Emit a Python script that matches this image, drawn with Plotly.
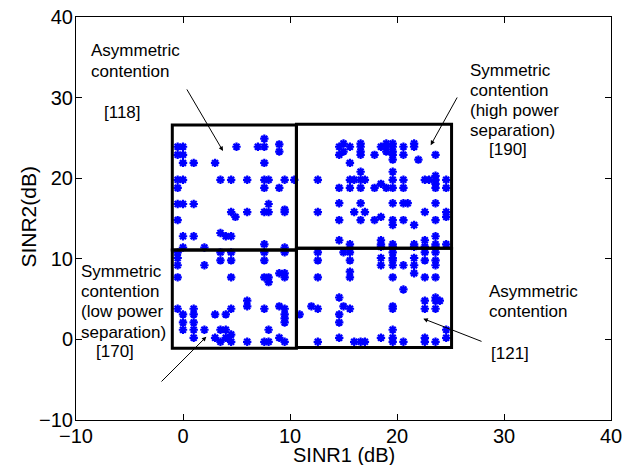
import plotly.graph_objects as go

# ---------------- data ----------------
# upper-left region
ul_x = [7.6,
        9.0,
        -0.5, 0.0, 5.0, 7.0, 7.6,
        9.0,
        -0.5, 0.0,
        0.0, 1.0, 3.0, 7.6,
        -0.5, 0.0, 3.5, 4.5, 6.0, 7.6, 8.0, 9.5, 10.4,
        -0.5, 7.6, 9.0,
        -0.5, 0.0, 1.0, 8.0,
        9.5,
        4.5, 6.0, 7.6, 8.0, 9.5,
        4.9,
        -0.5,
        3.5,
        0.0, 1.0, 4.0, 4.5,
        7.6,
        0.0, 2.0, 9.5]
ul_y = [24.9,
        24.2,
        23.9, 23.9, 23.9, 23.9, 23.9,
        23.3,
        22.9, 22.9,
        21.9, 21.9, 21.9, 21.9,
        19.8, 19.8, 19.8, 19.8, 19.8, 19.8, 19.8, 19.8, 19.8,
        18.8, 18.8, 18.8,
        16.8, 16.8, 16.8, 16.8,
        16.1,
        15.8, 15.8, 15.8, 15.8, 15.8,
        15.2,
        14.8,
        13.2,
        12.8, 12.8, 12.8, 12.8,
        11.8,
        11.4, 11.4, 11.4]

# lower-left region
ll_x = [-0.5, 3.5, 4.5, 7.6, 9.5,
        -0.5,
        3.5, 4.5, 7.6,
        -0.5, 2.0,
        9.0, 9.5,
        -0.5, 4.5, 7.6, 8.0, 9.5,
        8.0,
        6.0,
        6.0, 9.0,
        -0.5, 1.0, 4.5, 7.6, 9.5,
        0.0, 1.0, 3.0, 4.0, 9.5,
        9.5,
        0.0, 1.0, 9.5,
        0.0, 1.0, 2.0, 3.5, 4.0, 8.0,
        4.5,
        1.0, 3.0, 4.0, 9.0,
        3.5, 4.5, 6.0, 7.6, 8.0, 9.5]
ll_y = [10.8, 10.8, 10.8, 10.8, 10.8,
        10.1,
        9.8, 9.8, 9.8,
        9.2, 9.2,
        8.2, 8.2,
        7.7, 7.7, 7.7, 7.7, 7.7,
        7.1,
        4.8,
        4.1, 4.1,
        3.8, 3.8, 3.8, 3.8, 3.8,
        3.1, 3.1, 3.1, 3.1, 3.1,
        2.6,
        2.1, 2.1, 2.1,
        1.2, 1.2, 1.2, 1.2, 1.2, 1.2,
        0.6,
        0.2, 0.2, 0.2, 0.2,
        -0.3, -0.3, -0.3, -0.3, -0.3, -0.3]

# upper-right region
ur_x = [15.0, 16.6, 19.0, 19.6, 21.6,
        14.6, 15.6, 16.6, 18.5, 19.0, 19.6, 20.6, 21.6,
        15.0, 16.6, 19.0, 19.6,
        14.6, 16.6, 17.9, 19.6, 20.6, 23.6,
        19.6, 22.0,
        15.6,
        16.6, 19.6,
        23.6,
        12.6, 15.6, 16.0, 16.6, 17.0, 19.6, 20.6, 22.6, 23.0, 23.6, 24.6,
        18.5, 23.6,
        14.6, 15.6, 16.6, 17.9, 19.0, 19.6, 20.6, 23.6, 24.6,
        14.6, 16.6, 19.6, 20.6, 21.0, 23.6,
        12.6, 16.0, 17.0, 22.6, 24.6,
        18.5, 24.6,
        14.6, 16.6, 17.9, 19.6, 20.6, 23.6,
        19.6, 21.6,
        23.6,
        14.6, 18.5, 22.6,
        15.6, 18.5, 19.6, 21.6, 23.6, 24.6]
ur_y = [24.3, 24.3, 24.3, 24.3, 24.3,
        23.9, 23.9, 23.9, 23.9, 23.9, 23.9, 23.9, 23.9,
        23.3, 23.3, 23.3, 23.3,
        22.9, 22.9, 22.9, 22.9, 22.9, 22.9,
        22.3, 22.3,
        21.9,
        20.8, 20.8,
        20.3,
        19.8, 19.8, 19.8, 19.8, 19.8, 19.8, 19.8, 19.8, 19.8, 19.8, 19.8,
        19.3, 19.3,
        18.8, 18.8, 18.8, 18.8, 18.8, 18.8, 18.8, 18.8, 18.8,
        16.9, 16.9, 16.9, 16.9, 16.9, 16.9,
        15.8, 15.8, 15.8, 15.8, 15.8,
        15.2, 15.2,
        14.8, 14.8, 14.8, 14.8, 14.8, 14.8,
        14.2, 14.2,
        12.8,
        12.3, 12.3, 12.3,
        11.8, 11.8, 11.8, 11.8, 11.8, 11.8]

# lower-right region
lr_x = [18.5, 19.6, 21.6, 22.6, 23.6,
        12.6, 15.0, 15.6, 19.6, 22.6, 23.6,
        18.5, 19.6, 21.6,
        12.6, 15.6, 19.6, 22.6, 23.6,
        18.5, 19.6, 20.6, 21.6, 23.6,
        15.6,
        21.6,
        12.6, 15.6, 19.6, 22.6, 23.6,
        20.6,
        14.6, 23.6,
        22.6, 23.6, 24.0,
        12.0, 15.0, 19.6,
        12.6, 15.6, 19.6, 22.6, 23.6,
        10.9, 14.6,
        14.6,
        19.6, 24.6,
        14.6, 18.5, 19.6, 22.6, 24.6,
        12.6, 16.0, 16.6, 17.0, 19.6, 20.6, 22.6, 23.6]
lr_y = [11.5, 11.5, 11.5, 11.5, 11.5,
        10.8, 10.8, 10.8, 10.8, 10.8, 10.8,
        10.1, 10.1, 10.1,
        9.8, 9.8, 9.8, 9.8, 9.8,
        9.2, 9.2, 9.2, 9.2, 9.2,
        8.4,
        8.2,
        7.7, 7.7, 7.7, 7.7, 7.7,
        6.2,
        5.2, 5.2,
        4.8, 4.8, 4.8,
        4.1, 4.1, 4.1,
        3.8, 3.8, 3.8, 3.8, 3.8,
        3.1, 3.1,
        2.1,
        1.2, 1.2,
        0.2, 0.2, 0.2, 0.2, 0.2,
        -0.3, -0.3, -0.3, -0.3, -0.3, -0.3, -0.3, -0.3]

# region boxes: (x0, x1, y0, y1)
box_x0 = [-1.0, -1.0, 10.6, 10.6]
box_x1 = [10.6, 10.6, 25.1, 25.1]
box_y0 = [11.1, -1.1, 11.3, -1.0]
box_y1 = [26.6, 11.1, 26.7, 11.3]

tick_vals = [-10, 0, 10, 20, 30, 40]

FONT = "Liberation Sans, Arial, Helvetica, sans-serif"

fig = go.Figure()
fig.add_trace(go.Scatter(
    x=ul_x + ll_x + ur_x + lr_x,
    y=ul_y + ll_y + ur_y + lr_y,
    mode="markers",
    marker=dict(symbol="asterisk-open", size=7, color="#0000ff",
                line=dict(color="#0000ff", width=2.2)),
    showlegend=False,
    hoverinfo="x+y",
))

for x0, x1, y0, y1 in zip(box_x0, box_x1, box_y0, box_y1):
    fig.add_shape(type="rect", x0=x0, x1=x1, y0=y0, y1=y1, xref="x", yref="y",
                  line=dict(color="black", width=3), fillcolor="rgba(0,0,0,0)",
                  layer="above")

# text labels: (text, x, y)
labels = [
    ("Asymmetric", -8.69, 35.8), ("contention", -8.69, 33.3), ("[118]", -7.48, 28.2),
    ("Symmetric", 26.73, 33.4), ("contention", 26.73, 30.94),
    ("(high power", 26.73, 28.46), ("separation)", 26.73, 25.98), ("[190]", 28.5, 23.5),
    ("Symmetric", -9.63, 8.4), ("contention", -9.63, 6.0),
    ("(low power", -9.63, 3.44), ("separation)", -9.63, 0.88), ("[170]", -8.22, -1.53),
    ("Asymmetric", 28.5, 6.0), ("contention", 28.5, 3.52), ("[121]", 28.69, -1.69),
]
for t, x, y in labels:
    fig.add_annotation(text=t, x=x, y=y, xref="x", yref="y", showarrow=False,
                       xanchor="left", yanchor="middle", borderpad=0,
                       font=dict(family=FONT, size=17, color="black"))

# arrows: head (x, y), tail (ax, ay)
arrows = [
    (3.74, 23.37, 0.28, 31.2),
    (23.15, 24.1, 25.7, 30.2),
    (2.18, 0.33, -2.15, -5.41),
    (22.46, 2.57, 28.04, -0.32),
]
for x, y, ax, ay in arrows:
    fig.add_annotation(text="", x=x, y=y, ax=ax, ay=ay, xref="x", yref="y",
                       axref="x", ayref="y", showarrow=True, arrowhead=2,
                       arrowsize=0.9, arrowwidth=1, arrowcolor="black", standoff=0)

# axis titles
fig.add_annotation(text="SINR1 (dB)", xref="paper", yref="paper", x=0.5, y=-0.0875,
                   xanchor="center", yanchor="middle", showarrow=False,
                   font=dict(family=FONT, size=20, color="black"))
fig.add_annotation(text="SINR2(dB)", xref="paper", yref="paper", x=-0.0895, y=0.505,
                   xanchor="center", yanchor="middle", showarrow=False, textangle=-90,
                   font=dict(family=FONT, size=21, color="black"))

axis_common = dict(
    range=[-10, 40], tickvals=tick_vals, ticks="inside", ticklen=6,
    tickcolor="black", showline=True, linecolor="black", linewidth=1,
    mirror="ticks", showgrid=False, zeroline=False,
    tickfont=dict(family=FONT, size=20, color="black"),
)

fig.update_xaxes(**axis_common, ticklabelstandoff=-2)
fig.update_yaxes(**axis_common, ticklabelstandoff=-2)

fig.update_layout(
    width=624, height=465,
    margin=dict(l=76, r=13, t=17, b=45, autoexpand=False),
    paper_bgcolor="white", plot_bgcolor="white",
    font=dict(family=FONT),
)

fig.write_html("out.html")
